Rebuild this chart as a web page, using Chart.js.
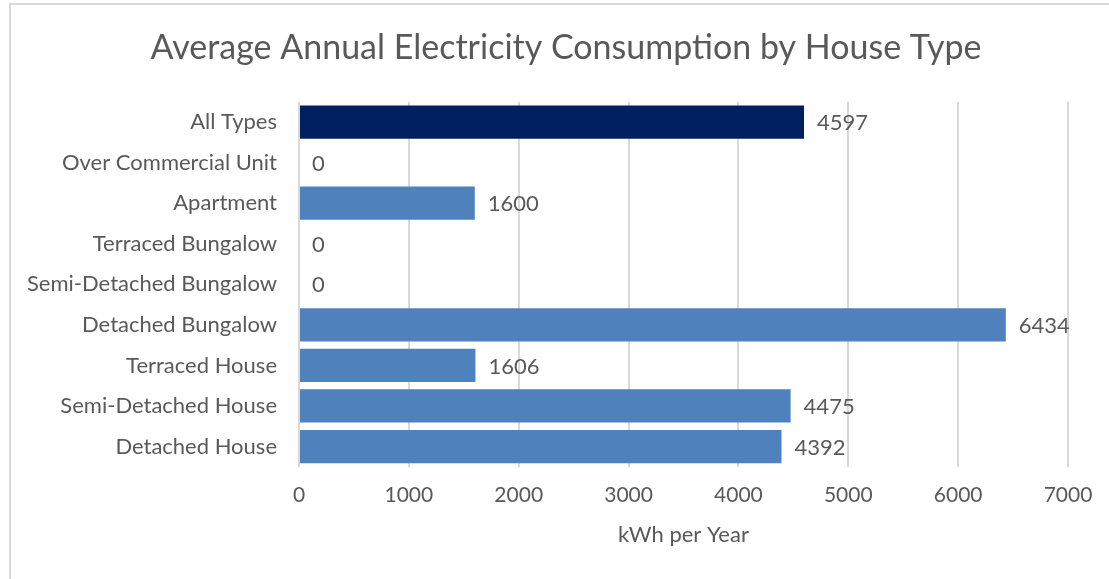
<!DOCTYPE html>
<html>
<head>
<meta charset="utf-8">
<script src="https://cdn.jsdelivr.net/npm/chart.js@4"></script>
<style>
    html, body { margin: 0; padding: 0; background: #fff; overflow: hidden; }
    #frame {
        position: absolute; left: 9px; top: 3px; width: 1200px; height: 700px;
        border: 2px solid #d9d9d9; box-sizing: border-box;
    }
    #chart { position: absolute; left: 9px; top: 0; }
</style>
</head>
<body>
<div id="frame"></div>
<canvas id="chart" width="1114" height="579"></canvas>
<script>
// Chart data
const houseTypes = ['All Types', 'Over Commercial Unit', 'Apartment', 'Terraced Bungalow',
    'Semi-Detached Bungalow', 'Detached Bungalow', 'Terraced House', 'Semi-Detached House', 'Detached House'];
const consumption = [4597, 0, 1600, 0, 0, 6434, 1606, 4475, 4392];
const xTicks = [0, 1000, 2000, 3000, 4000, 5000, 6000, 7000];

const textColor = '#595959';
const fontFamily = 'Lato, "Open Sans", sans-serif';
const barColors = houseTypes.map(t => t === 'All Types' ? '#002060' : '#4f81bd');

// Value labels to the right of each bar
const valueLabels = {
    id: 'valueLabels',
    afterDatasetsDraw(chart) {
        const ctx = chart.ctx;
        ctx.save();
        ctx.font = '22px ' + fontFamily;
        ctx.fillStyle = textColor;
        ctx.textAlign = 'left';
        ctx.textBaseline = 'middle';
        chart.getDatasetMeta(0).data.forEach((bar, i) => {
            ctx.fillText(String(consumption[i]), bar.x + 13, bar.y + 1);
        });
        ctx.restore();
    }
};

// Center the title on the whole canvas, not just the padded area
const centerTitle = {
    id: 'centerTitle',
    afterLayout(chart) {
        const t = chart.titleBlock;
        if (t) { t.left = 0; t.right = chart.width; t.width = chart.width; }
    }
};

const ctx = document.getElementById('chart').getContext('2d');
new Chart(ctx, {
    type: 'bar',
    data: {
        labels: houseTypes,
        datasets: [{
            label: 'kWh per Year',
            data: consumption,
            backgroundColor: barColors,
            borderWidth: 0,
            barPercentage: 0.82,
            categoryPercentage: 1
        }]
    },
    options: {
        indexAxis: 'y',
        responsive: false,
        animation: false,
        layout: { padding: { left: 0, right: 55, top: 28, bottom: 33 } },
        scales: {
            x: {
                min: 0,
                max: 7000,
                afterBuildTicks: scale => { scale.ticks = xTicks.map(v => ({ value: v })); },
                grid: { color: '#d9d9d9', lineWidth: 2, drawTicks: false },
                border: { display: false },
                ticks: {
                    padding: 16,
                    color: textColor,
                    font: { family: fontFamily, size: 21 },
                    callback: v => String(v)
                },
                title: {
                    display: true,
                    text: 'kWh per Year',
                    color: textColor,
                    font: { family: fontFamily, size: 22, lineHeight: 1 },
                    padding: { top: 0, bottom: 0 }
                }
            },
            y: {
                grid: { display: false, drawTicks: false },
                border: { display: false },
                afterFit: scale => { scale.width = 290; },
                ticks: { padding: 22, color: textColor, font: { family: fontFamily, size: 22 } }
            }
        },
        plugins: {
            legend: { display: false },
            tooltip: { enabled: false },
            title: {
                display: true,
                text: 'Average Annual Electricity Consumption by House Type',
                color: textColor,
                font: { family: fontFamily, size: 34, weight: 'normal' },
                padding: { top: 0, bottom: 33 }
            }
        }
    },
    plugins: [valueLabels, centerTitle]
});
</script>
</body>
</html>
